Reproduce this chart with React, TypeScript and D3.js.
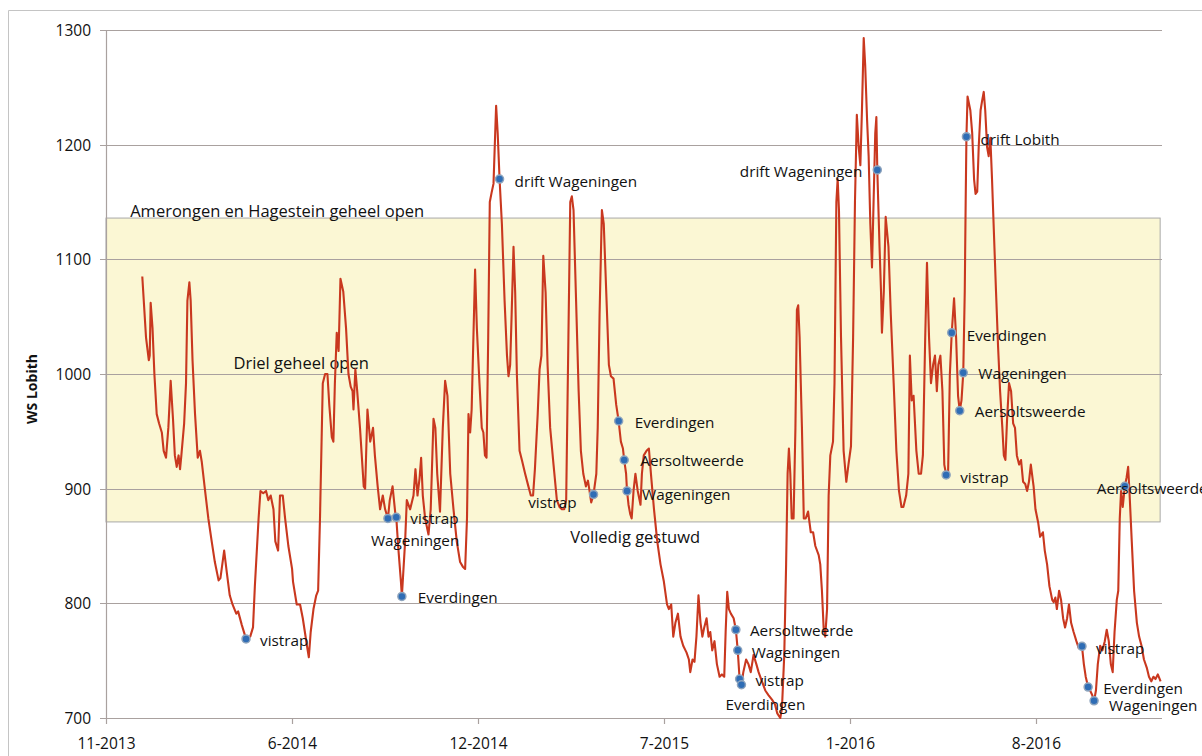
import React from "react";
import * as d3 from "d3";

// ---------- data ----------
const startDate = new Date(2013, 10, 18);
const axisEndDay = 1135;

const dayOffsets = [
  39, 43, 46, 47, 48, 50, 52, 54.5, 57, 60, 62, 64.5, 67, 69.5, 72, 74, 76, 78, 79.6, 81,
  84, 86, 87.5, 89.6, 91, 93, 95.7, 98.6, 101, 103, 106.5, 110, 113.6, 117, 121, 123, 127, 130, 133, 136,
  140, 142, 146, 150.5, 155, 158, 160, 164, 166, 169, 172, 174.5, 177, 180, 182, 185, 187, 190, 192.5, 196,
  200, 201, 205, 208.6, 211.5, 216, 218, 220, 223, 226, 228, 230, 233, 235.5, 238, 240, 242.7, 244.4, 246, 248,
  250, 252, 255, 258, 260.6, 263, 265, 266, 268, 270, 273, 277, 278.5, 281, 284, 287, 289, 292, 294.6, 297.5,
  300, 303, 305, 308, 311, 312, 314, 317, 318, 321.5, 323.3, 326.9, 330.5, 332.6, 334.8, 337, 338.7, 340.5, 343, 346.6,
  349, 352, 354, 356, 359, 362, 364.5, 367, 370, 373.5, 377, 380.6, 383.5, 386, 388, 389.6, 391.4, 393, 394.9, 396.7,
  398.6, 401.4, 403.9, 405.6, 407.3, 409, 410.8, 412.5, 414.4, 416.5, 419.3, 421, 423, 425.5, 428.4, 431, 432.6, 434.4, 436, 438,
  439.8, 441.6, 444.5, 447, 450.5, 454, 456.6, 459, 461, 464, 466, 468, 470, 472.5, 474.6, 477.4, 481, 484.6, 487.5, 490,
  492.5, 494.6, 497, 499, 500.7, 502.5, 505, 508, 510.4, 513, 515.8, 518, 519.7, 521.5, 524, 527, 528.5, 530.5, 533, 535,
  538, 540.5, 542.7, 545.5, 548.4, 551, 553.4, 555.6, 557, 559, 560, 561.6, 563.4, 565, 567, 569, 571.5, 574.5, 576, 578,
  581, 583.5, 586, 589, 592.5, 596, 599.6, 603, 605, 607.5, 609.7, 612, 614.7, 617.5, 620.4, 624, 626.5, 628, 630.4, 632.5,
  634.6, 636.8, 639, 641, 643, 645.5, 647.6, 649.5, 651.6, 654, 656.6, 659.5, 662, 664.5, 666, 667.7, 669.5, 671.6, 674.6, 677,
  679, 681, 683, 685, 688, 690.5, 693, 696, 699, 701.4, 705, 708.6, 712, 715.8, 719, 721.5, 724.7, 726.5, 729, 731,
  732.6, 734, 735.5, 737, 739, 741, 742.6, 744, 745.5, 748, 750, 752, 754.6, 757.5, 760, 762.4, 766, 767.7, 769.5, 771.3,
  773, 775, 776.7, 778.5, 781.4, 783, 785, 786.4, 787.8, 790, 792.8, 795.7, 798, 800.7, 803, 805, 807, 809, 810.8, 812.5,
  814.4, 816, 818, 819.7, 821.5, 823.3, 825, 826.8, 828, 829, 831.4, 833, 834, 836, 838, 841, 843.5, 846.6, 849.5, 852.3,
  855, 857, 860, 862.4, 864, 866, 868, 871, 873.5, 876, 878, 880.5, 882.4, 884.6, 886.7, 889, 891, 893, 894.6, 896.8,
  899, 901, 903, 905, 907, 909, 911.5, 913.7, 915.8, 917.6, 919.5, 921.4, 923, 924, 924.8, 926, 928, 929, 931, 933,
  934.6, 936.4, 938, 940, 941.6, 943.4, 945, 947, 948.7, 950.5, 952.3, 954, 956.6, 958.8, 961, 963.4, 965, 966.7, 968.5, 970.6,
  972.8, 975, 977, 979, 981.4, 983.5, 985.7, 988, 990, 992, 994, 997, 999, 1002, 1004, 1007, 1009, 1011.5, 1014, 1017,
  1018.6, 1020.4, 1022, 1024.4, 1026.5, 1028.7, 1030.8, 1033, 1035, 1037.3, 1040, 1043, 1045.5, 1049, 1051, 1053, 1055.6, 1057.7, 1060, 1062,
  1064, 1066, 1068.5, 1071, 1073.5, 1075.6, 1077.8, 1080, 1082, 1084, 1086.4, 1088, 1089.6, 1091, 1092.8, 1095, 1097, 1098.6, 1100, 1102.5,
  1105, 1108, 1110.4, 1113, 1115.6, 1118.6, 1121, 1123.5, 1125.8, 1128, 1130.5, 1133.5,
];

const levels = [
  1085, 1032, 1012, 1016, 1062, 1040, 1000, 965, 957, 949, 933, 927, 953, 994, 961, 929, 919, 929, 917, 929,
  957, 992, 1064, 1080, 1064, 1012, 965, 927, 933, 923, 898, 874, 854, 836, 820, 822, 846, 826, 807, 799,
  791, 793, 781, 769, 771, 779, 815, 874, 898, 896, 898, 890, 894, 882, 854, 846, 894, 894, 874, 850,
  830, 819, 799, 799, 787, 763, 753, 775, 795, 807, 811, 874, 992, 1000, 1000, 973, 945, 941, 992, 1036,
  1020, 1083, 1072, 1040, 1000, 989, 985, 969, 1004, 985, 953, 902, 900, 969, 941, 953, 929, 902, 882, 894,
  882, 874, 890, 902, 878, 875, 850, 819, 806, 854, 890, 882, 894, 917, 894, 909, 927, 894, 874, 860,
  882, 961, 953, 913, 880, 953, 994, 981, 913, 882, 854, 836, 832, 830, 874, 965, 949, 969, 1032, 1091,
  1040, 992, 953, 949, 929, 927, 1032, 1150, 1158, 1166, 1234, 1210, 1170, 1131, 1064, 1016, 998, 1008, 1052, 1111,
  1071, 1000, 933, 925, 913, 902, 894, 894, 917, 965, 1004, 1016, 1103, 1071, 1008, 953, 921, 890, 884, 882,
  882, 890, 1032, 1150, 1155, 1143, 1071, 985, 933, 913, 902, 907, 898, 888, 895, 913, 953, 1052, 1143, 1131,
  1064, 1008, 998, 996, 973, 959, 941, 935, 925, 913, 898, 886, 878, 874, 898, 913, 898, 886, 913, 929,
  933, 935, 910, 882, 854, 834, 819, 799, 795, 799, 771, 783, 791, 771, 763, 757, 751, 740, 751, 749,
  771, 807, 783, 771, 779, 787, 771, 775, 759, 767, 747, 736, 738, 736, 775, 810, 795, 791, 787, 777,
  759, 734, 729, 740, 751, 747, 740, 755, 747, 740, 732, 724, 720, 716, 712, 704, 700, 708, 755, 834,
  913, 935, 913, 874, 874, 953, 1056, 1060, 1032, 953, 874, 874, 880, 862, 862, 850, 842, 834, 811, 779,
  771, 795, 894, 929, 941, 992, 1150, 1170, 1143, 1032, 933, 906, 921, 937, 1032, 1150, 1226, 1198, 1182, 1230,
  1293, 1269, 1222, 1190, 1131, 1093, 1150, 1210, 1224, 1178, 1111, 1072, 1036, 1072, 1137, 1111, 1052, 992, 933, 898,
  884, 884, 894, 913, 1016, 977, 981, 933, 913, 913, 929, 1032, 1097, 1032, 992, 1008, 1016, 985, 1008, 1016,
  985, 921, 912, 910, 1000, 1036, 1066, 1032, 981, 968, 977, 1001, 1072, 1151, 1207, 1242, 1234, 1230, 1210, 1170,
  1157, 1159, 1198, 1230, 1238, 1246, 1230, 1198, 1190, 1206, 1170, 1131, 1072, 1024, 985, 953, 929, 925, 961, 992,
  985, 957, 953, 929, 921, 925, 906, 904, 898, 906, 921, 902, 882, 870, 858, 862, 846, 834, 815, 803,
  801, 805, 795, 811, 803, 787, 779, 787, 799, 783, 775, 767, 761, 762.5, 747, 736, 727, 724, 720, 715,
  724, 747, 763, 759, 767, 777, 767, 747, 740, 775, 803, 811, 874, 898, 884, 902, 910, 919, 898, 854,
  811, 783, 771, 763, 751, 744, 736, 732, 736, 734, 738, 732,
];

const markerDays = [150.5, 303, 312, 318, 423, 524, 551, 557, 560, 677, 679, 681, 683, 829, 903, 909, 917.6, 921.4, 924.8, 1049, 1055.6, 1062, 1095];
const markerLevels = [769, 874, 875, 806, 1170, 895, 959, 925, 898, 777, 759, 734, 729, 1178, 912, 1036, 968, 1001, 1207, 762.5, 727, 715, 902];
const markerLabels = [
  "vistrap", "Wageningen", "vistrap", "Everdingen", "drift Wageningen", "vistrap", "Everdingen", "Aersoltweerde",
  "Wageningen", "Aersoltweerde", "Wageningen", "vistrap", "Everdingen", "drift Wageningen", "vistrap", "Everdingen",
  "Aersoltsweerde", "Wageningen", "drift Lobith", "vistrap", "Everdingen", "Wageningen", "Aersoltsweerde",
];

const yTicks = [700, 800, 900, 1000, 1100, 1200, 1300];
const xTickDays = [0, 200, 400, 600, 800, 1000];

const bandLow = 871;
const bandHigh = 1136;
const bandEndDay = 1133;

const noteTexts = ["Amerongen en Hagestein geheel open", "Driel geheel open", "Volledig gestuwd"];
const noteDays = [26, 137, 499];
const noteLevels = [1143, 1010, 858];

const yTitle = "WS Lobith";

// label layout (offset of each label from its marker, in px)
const labelLayout: [number, number, string][] = [
  [14, 1, "start"], [-17, 22, "start"], [14, 1, "start"], [16, 1, "start"], [15, 2, "start"],
  [-17, 8, "end"], [16, 1, "start"], [16, 0, "start"], [15, 3, "start"], [14, 0, "start"],
  [14, 2, "start"], [16, 1, "start"], [-16, 19, "start"], [-15, 1, "end"], [14, 2, "start"],
  [15, 2, "start"], [15, 0, "start"], [15, 0, "start"], [14, 2, "start"], [14, 2, "start"],
  [15, 1, "start"], [15, 4, "start"], [-28, 2, "start"],
];

// ---------- chart ----------
const W = 1202;
const H = 756;
const left = 106;
const right = 1162;
const top = 30;
const bottom = 718;
const FONT = "'Open Sans', 'DejaVu Sans', sans-serif";

const toDate = (d: number) => new Date(+startDate + d * 864e5);

export default function App() {
  const x = d3.scaleTime().domain([startDate, toDate(axisEndDay)]).range([left, right]);
  const y = d3.scaleLinear().domain([700, 1300]).range([bottom, top]);
  const fmt = d3.timeFormat("%-m-%Y");

  const pts: [number, number][] = dayOffsets.map((d, i) => [x(toDate(d)), y(levels[i])]);
  const line = d3.line().curve(d3.curveLinear)(pts) || "";

  const gridColor = "#a9a19f";
  const textColor = "#111";

  return (
    <div style={{ position: "fixed", left: 0, top: 0, width: W, height: H, overflow: "hidden", background: "#fff" }}>
      <svg width={W} height={H} style={{ display: "block" }} fontFamily={FONT}>
        {/* outer frame */}
        <path d={`M8.5,${H} L8.5,10.5 L${W},10.5`} fill="none" stroke="#c4c4c4" strokeWidth={1} />

        {/* band */}
        <rect
          x={left}
          y={y(bandHigh)}
          width={x(toDate(bandEndDay)) - left}
          height={y(bandLow) - y(bandHigh)}
          fill="#fbf7d4"
          stroke="#a8a8a8"
          strokeWidth={1}
        />

        {/* gridlines */}
        {yTicks.map((t) => (
          <g key={t}>
            <line x1={left - 6} x2={right} y1={Math.round(y(t)) + 0.5} y2={Math.round(y(t)) + 0.5} stroke={gridColor} strokeWidth={1.2} />
            <text x={91} y={y(t)} textAnchor="end" dominantBaseline="central" fontSize={15.5} fill={textColor}>
              {t}
            </text>
          </g>
        ))}

        {/* y axis line */}
        <line x1={left + 0.5} x2={left + 0.5} y1={top} y2={bottom} stroke={gridColor} strokeWidth={1.2} />

        {/* x ticks */}
        {xTickDays.map((d) => {
          const xx = Math.round(x(toDate(d))) + 0.5;
          return (
            <g key={d}>
              <line x1={xx} x2={xx} y1={bottom} y2={bottom + 6} stroke={gridColor} strokeWidth={1.2} />
              <text x={xx} y={743} textAnchor="middle" dominantBaseline="central" fontSize={15.5} fill={textColor}>
                {fmt(toDate(d))}
              </text>
            </g>
          );
        })}

        {/* y title */}
        <text
          transform={`translate(31, ${(top + bottom) / 2 + 15}) rotate(-90)`}
          textAnchor="middle"
          dominantBaseline="central"
          fontSize={14}
          fontWeight="bold"
          fill={textColor}
        >
          {yTitle}
        </text>

        {/* notes */}
        {noteTexts.map((t, i) => (
          <text key={t} x={x(toDate(noteDays[i]))} y={y(noteLevels[i])} dominantBaseline="central" fontSize={16.5} fill={textColor}>
            {t}
          </text>
        ))}

        {/* series line */}
        <path d={line} fill="none" stroke="#c9381f" strokeWidth={2.1} strokeLinejoin="round" />

        {/* markers & labels */}
        {markerDays.map((d, i) => {
          const mx = x(toDate(d));
          const my = y(markerLevels[i]);
          const [dx, dy, anchor] = labelLayout[i];
          return (
            <g key={i}>
              <circle cx={mx} cy={my} r={4} fill="#2f6db5" stroke="#8ea4bd" strokeWidth={1.5} />
              <text
                x={mx + dx}
                y={my + dy}
                textAnchor={anchor as any}
                dominantBaseline="central"
                fontSize={15.3}
                fill={textColor}
              >
                {markerLabels[i]}
              </text>
            </g>
          );
        })}
      </svg>
    </div>
  );
}
